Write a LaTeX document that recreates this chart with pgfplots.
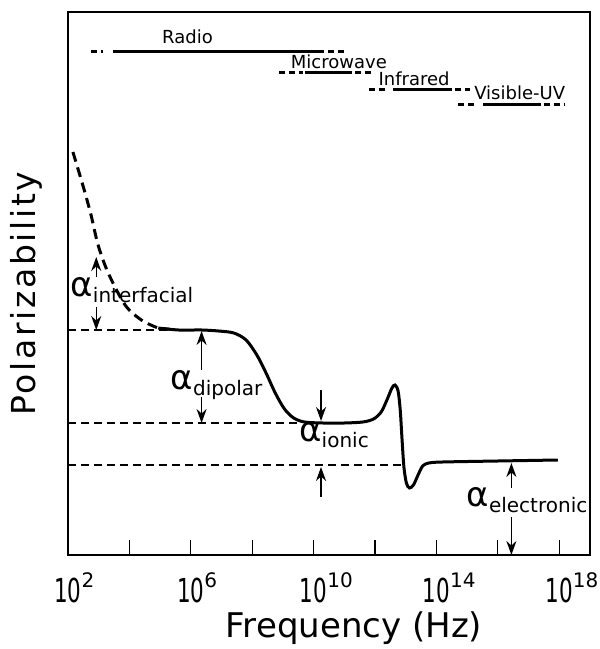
\documentclass[border=0pt]{standalone}
\usepackage{fontspec}
\setmainfont{DejaVu Sans}
\newfontfamily\lsfont[LetterSpace=8]{DejaVu Sans}
\usepackage{graphicx}
\usepackage{pgfplots}
\pgfplotsset{compat=1.18}
\usetikzlibrary{arrows.meta}
\newcommand\tl[1]{\scalebox{0.65}[1]{\fontsize{16.5}{16.5}\selectfont 10}\rlap{\raisebox{7.5pt}{\fontsize{10}{10}\selectfont #1}}}
\newcommand\al[1]{{\fontsize{17}{17}\selectfont α}\raisebox{-3pt}{\fontsize{10}{10}\selectfont #1}}
\begin{document}
\begin{tikzpicture}
\useasboundingbox (0,0) rectangle (300pt,324.5pt);
\begin{axis}[
  at={(34pt,47pt)}, anchor=south west,
  scale only axis, width=261pt, height=271.5pt,
  xmin=2, xmax=19, ymin=0, ymax=543,
  axis line style={line width=0.6pt},
  xtick={2,4,...,18},
  xticklabels={\tl{2},,\tl{6},,\tl{10},,\tl{14},,\tl{18}},
  xtick pos=bottom, ytick=\empty,
  tick align=inside, major tick length=7.5pt,
  xtick style={line width=0.6pt, black},
  xticklabel style={anchor=base, yshift=-23.5pt},
  xlabel={Frequency (Hz)},
  xlabel style={at={(axis description cs:0.548,0)}, anchor=base, yshift=-41.5pt, font=\fontsize{17}{17}\selectfont},
  ylabel={\lsfont Polarizability},
  ylabel style={at={(axis description cs:-0.0632,0.4816)}, anchor=base, font=\fontsize{16.5}{16.5}\selectfont},
  clip=false,
]
% reference levels
\addplot[black, line width=0.7pt, dash pattern=on 4pt off 2.5pt] coordinates {(2,225) (5.4,225)};
\addplot[black, line width=0.7pt, dash pattern=on 4pt off 2.5pt] coordinates {(2,132) (9.6,132)};
\addplot[black, line width=0.7pt, dash pattern=on 4pt off 2.5pt] coordinates {(2,90) (13.0,90)};
% interfacial (dashed)
\addplot[black, line width=1.5pt, dash pattern=on 5pt off 3pt, smooth] coordinates {
(2.16,403) (2.5,368) (2.75,340) (2.98,310) (3.31,282) (3.86,250) (4.39,235) (4.94,227) (5.3,226)};
% main curve
\addplot[black, line width=1.5pt, smooth, tension=0.5] coordinates {
(4.94,227) (5.6,225) (6.35,225) (6.9,224) (7.4,222) (7.8,215) (8.15,200) (8.45,182) (8.75,162) (9.05,146) (9.35,137) (9.7,133) (10.3,132) (11.0,132) (11.6,133) (11.95,136) (12.2,143) (12.4,156) (12.55,167) (12.65,170) (12.75,164) (12.82,145) (12.88,115) (12.94,88) (13.02,72) (13.12,67) (13.25,70) (13.4,80) (13.55,89) (13.75,92) (14.2,93) (16,94) (17.95,95)};
% spectrum bands
\pgfplotsset{band/.style={black, line width=1.5pt}, bandd/.style={black, line width=1.5pt, dash pattern=on 3pt off 2pt}}
\addplot[bandd] coordinates {(2.75,503) (3.14,503)};
\addplot[band] coordinates {(3.47,503) (10.33,503)};
\addplot[bandd] coordinates {(10.46,503) (11.02,503)};
\addplot[bandd] coordinates {(8.86,482) (9.65,482)};
\addplot[band] coordinates {(9.71,482) (11.25,482)};
\addplot[bandd] coordinates {(11.35,482) (11.9,482)};
\addplot[bandd] coordinates {(11.8,465) (12.42,465)};
\addplot[band] coordinates {(12.59,465) (14.52,465)};
\addplot[bandd] coordinates {(14.61,465) (15.1,465)};
\addplot[bandd] coordinates {(14.71,450) (15.33,450)};
\addplot[band] coordinates {(15.53,450) (17.42,450)};
\addplot[bandd] coordinates {(17.49,450) (18.18,450)};
\begin{scope}[font=\fontsize{9}{9}\selectfont]
\node[anchor=base] at (axis cs:5.89,511) {Radio};
\node[anchor=base] at (axis cs:10.82,486) {Microwave};
\node[anchor=base] at (axis cs:13.27,469) {Infrared};
\node[anchor=base] at (axis cs:16.71,455) {Visible-UV};
\end{scope}
% arrows
\tikzset{ar/.style={black, line width=0.7pt, -{Stealth[length=7pt,width=5pt]}}}
\draw[ar] (axis cs:2.92,278) -- (axis cs:2.92,298);
\draw[ar] (axis cs:2.92,248) -- (axis cs:2.92,225);
\draw[ar] (axis cs:6.35,185) -- (axis cs:6.35,224);
\draw[ar] (axis cs:6.35,158) -- (axis cs:6.35,132);
\draw[ar] (axis cs:10.24,165) -- (axis cs:10.24,134);
\draw[ar] (axis cs:10.24,58) -- (axis cs:10.24,88);
\draw[ar] (axis cs:16.44,67) -- (axis cs:16.44,92);
\draw[ar] (axis cs:16.44,38) -- (axis cs:16.44,0);
% labels
\node[anchor=base west, inner sep=0pt] at (axis cs:2.07,258) {\al{interfacial}};
\node[anchor=base west, inner sep=0pt] at (axis cs:5.33,165) {\al{dipolar}};
\node[anchor=base west, inner sep=0pt] at (axis cs:9.52,113) {\al{ionic}};
\node[anchor=base west, inner sep=0pt] at (axis cs:14.97,48) {\al{electronic}};
\end{axis}
\end{tikzpicture}
\end{document}
